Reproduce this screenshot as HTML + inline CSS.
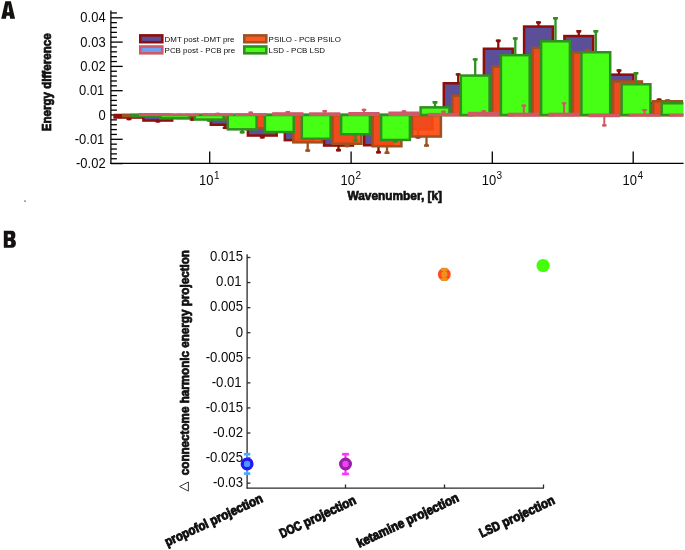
<!DOCTYPE html>
<html><head><meta charset="utf-8"><title>figure</title>
<style>
html,body{margin:0;padding:0;background:#fff;}
body{width:685px;height:550px;overflow:hidden;font-family:"Liberation Sans",sans-serif;}
svg{display:block;}
text{font-family:"Liberation Sans",sans-serif;fill:#0a0a0a;}
.b{font-weight:bold;fill:#111;stroke:#111;stroke-width:0.75px;}
</style></head><body>
<svg width="685" height="550" viewBox="0 0 685 550">
<rect width="685" height="550" fill="#ffffff"/>
<g opacity="0.999">
<defs><clipPath id="clipA"><rect x="110" y="0" width="573.4" height="170"/></clipPath></defs>

<g id="panelA">
<g stroke="#000" stroke-width="1.3" fill="none">
<line x1="110.9" y1="10.4" x2="110.9" y2="163.9"/>
<line x1="110.4" y1="163.4" x2="683.6" y2="163.4"/>
<line x1="110.9" y1="163.60" x2="122.7" y2="163.60"/>
<line x1="110.9" y1="158.74" x2="116.9" y2="158.74"/>
<line x1="110.9" y1="153.88" x2="116.9" y2="153.88"/>
<line x1="110.9" y1="149.02" x2="116.9" y2="149.02"/>
<line x1="110.9" y1="144.16" x2="116.9" y2="144.16"/>
<line x1="110.9" y1="139.30" x2="122.7" y2="139.30"/>
<line x1="110.9" y1="134.44" x2="116.9" y2="134.44"/>
<line x1="110.9" y1="129.58" x2="116.9" y2="129.58"/>
<line x1="110.9" y1="124.72" x2="116.9" y2="124.72"/>
<line x1="110.9" y1="119.86" x2="116.9" y2="119.86"/>
<line x1="110.9" y1="115.00" x2="122.7" y2="115.00"/>
<line x1="110.9" y1="110.14" x2="116.9" y2="110.14"/>
<line x1="110.9" y1="105.28" x2="116.9" y2="105.28"/>
<line x1="110.9" y1="100.42" x2="116.9" y2="100.42"/>
<line x1="110.9" y1="95.56" x2="116.9" y2="95.56"/>
<line x1="110.9" y1="90.70" x2="122.7" y2="90.70"/>
<line x1="110.9" y1="85.84" x2="116.9" y2="85.84"/>
<line x1="110.9" y1="80.98" x2="116.9" y2="80.98"/>
<line x1="110.9" y1="76.12" x2="116.9" y2="76.12"/>
<line x1="110.9" y1="71.26" x2="116.9" y2="71.26"/>
<line x1="110.9" y1="66.40" x2="122.7" y2="66.40"/>
<line x1="110.9" y1="61.54" x2="116.9" y2="61.54"/>
<line x1="110.9" y1="56.68" x2="116.9" y2="56.68"/>
<line x1="110.9" y1="51.82" x2="116.9" y2="51.82"/>
<line x1="110.9" y1="46.96" x2="116.9" y2="46.96"/>
<line x1="110.9" y1="42.10" x2="122.7" y2="42.10"/>
<line x1="110.9" y1="37.24" x2="116.9" y2="37.24"/>
<line x1="110.9" y1="32.38" x2="116.9" y2="32.38"/>
<line x1="110.9" y1="27.52" x2="116.9" y2="27.52"/>
<line x1="110.9" y1="22.66" x2="116.9" y2="22.66"/>
<line x1="110.9" y1="17.80" x2="122.7" y2="17.80"/>
<line x1="110.9" y1="12.94" x2="116.9" y2="12.94"/>
<line x1="209.7" y1="163.4" x2="209.7" y2="151.4"/>
<line x1="351.1" y1="163.4" x2="351.1" y2="151.4"/>
<line x1="492.3" y1="163.4" x2="492.3" y2="151.4"/>
<line x1="633.2" y1="163.4" x2="633.2" y2="151.4"/>
</g>
<g clip-path="url(#clipA)">
<rect x="114.60" y="115.00" width="28.80" height="2.55" fill="#5b4f99" stroke="#8e0f08" stroke-width="2.5"/>
<line x1="129.00" y1="117.55" x2="129.00" y2="120.20" stroke="#8e0f08" stroke-width="2.3"/><polygon points="126.80,120.20 131.20,120.20 131.50,119.90 131.50,118.13 130.15,117.33 127.85,117.33 126.50,118.13 126.50,119.90" fill="#8e0f08"/>
<rect x="143.40" y="115.00" width="28.80" height="5.55" fill="#5b4f99" stroke="#8e0f08" stroke-width="2.5"/>
<line x1="157.80" y1="120.55" x2="157.80" y2="122.60" stroke="#8e0f08" stroke-width="2.3"/><polygon points="155.60,122.60 160.00,122.60 160.30,122.30 160.30,120.53 158.95,119.72 156.65,119.72 155.30,120.53 155.30,122.30" fill="#8e0f08"/>
<rect x="177.80" y="115.00" width="28.80" height="2.95" fill="#5b4f99" stroke="#8e0f08" stroke-width="2.5"/>
<line x1="192.20" y1="117.95" x2="192.20" y2="120.70" stroke="#8e0f08" stroke-width="2.3"/><polygon points="190.00,120.70 194.40,120.70 194.70,120.40 194.70,118.63 193.35,117.83 191.05,117.83 189.70,118.63 189.70,120.40" fill="#8e0f08"/>
<rect x="210.80" y="115.00" width="28.80" height="9.75" fill="#5b4f99" stroke="#8e0f08" stroke-width="2.5"/>
<line x1="225.20" y1="124.75" x2="225.20" y2="129.10" stroke="#8e0f08" stroke-width="2.3"/><polygon points="223.00,129.10 227.40,129.10 227.70,128.80 227.70,127.03 226.35,126.22 224.05,126.22 222.70,127.03 222.70,128.80" fill="#8e0f08"/>
<rect x="247.90" y="115.00" width="28.80" height="20.55" fill="#5b4f99" stroke="#8e0f08" stroke-width="2.5"/>
<line x1="262.30" y1="135.55" x2="262.30" y2="138.60" stroke="#8e0f08" stroke-width="2.3"/><polygon points="260.10,138.60 264.50,138.60 264.80,138.30 264.80,136.53 263.45,135.72 261.15,135.72 259.80,136.53 259.80,138.30" fill="#8e0f08"/>
<rect x="284.80" y="115.00" width="28.80" height="25.15" fill="#5b4f99" stroke="#8e0f08" stroke-width="2.5"/>
<rect x="324.10" y="115.00" width="28.80" height="30.55" fill="#5b4f99" stroke="#8e0f08" stroke-width="2.5"/>
<line x1="338.50" y1="145.55" x2="338.50" y2="151.40" stroke="#8e0f08" stroke-width="2.3"/><polygon points="336.30,151.40 340.70,151.40 341.00,151.10 341.00,149.33 339.65,148.53 337.35,148.53 336.00,149.33 336.00,151.10" fill="#8e0f08"/>
<rect x="364.10" y="115.00" width="28.80" height="30.25" fill="#5b4f99" stroke="#8e0f08" stroke-width="2.5"/>
<line x1="378.50" y1="145.25" x2="378.50" y2="153.50" stroke="#8e0f08" stroke-width="2.3"/><polygon points="376.30,153.50 380.70,153.50 381.00,153.20 381.00,151.43 379.65,150.62 377.35,150.62 376.00,151.43 376.00,153.20" fill="#8e0f08"/>
<rect x="403.60" y="115.00" width="28.80" height="14.25" fill="#5b4f99" stroke="#8e0f08" stroke-width="2.5"/>
<line x1="418.00" y1="129.25" x2="418.00" y2="138.50" stroke="#8e0f08" stroke-width="2.3"/><polygon points="415.80,138.50 420.20,138.50 420.50,138.20 420.50,136.43 419.15,135.62 416.85,135.62 415.50,136.43 415.50,138.20" fill="#8e0f08"/>
<rect x="443.80" y="83.25" width="28.80" height="31.75" fill="#5b4f99" stroke="#8e0f08" stroke-width="2.5"/>
<line x1="458.20" y1="83.25" x2="458.20" y2="73.20" stroke="#8e0f08" stroke-width="2.3"/><polygon points="456.00,73.20 460.40,73.20 460.70,73.50 460.70,75.27 459.35,76.08 457.05,76.08 455.70,75.27 455.70,73.50" fill="#8e0f08"/>
<rect x="483.90" y="48.75" width="28.80" height="66.25" fill="#5b4f99" stroke="#8e0f08" stroke-width="2.5"/>
<line x1="498.30" y1="48.75" x2="498.30" y2="39.50" stroke="#8e0f08" stroke-width="2.3"/><polygon points="496.10,39.50 500.50,39.50 500.80,39.80 500.80,41.57 499.45,42.38 497.15,42.38 495.80,41.57 495.80,39.80" fill="#8e0f08"/>
<rect x="524.10" y="26.55" width="28.80" height="88.45" fill="#5b4f99" stroke="#8e0f08" stroke-width="2.5"/>
<line x1="538.50" y1="26.55" x2="538.50" y2="21.20" stroke="#8e0f08" stroke-width="2.3"/><polygon points="536.30,21.20 540.70,21.20 541.00,21.50 541.00,23.27 539.65,24.07 537.35,24.07 536.00,23.27 536.00,21.50" fill="#8e0f08"/>
<rect x="564.40" y="36.05" width="28.80" height="78.95" fill="#5b4f99" stroke="#8e0f08" stroke-width="2.5"/>
<line x1="578.80" y1="36.05" x2="578.80" y2="30.10" stroke="#8e0f08" stroke-width="2.3"/><polygon points="576.60,30.10 581.00,30.10 581.30,30.40 581.30,32.17 579.95,32.98 577.65,32.98 576.30,32.17 576.30,30.40" fill="#8e0f08"/>
<rect x="604.60" y="74.65" width="28.80" height="40.35" fill="#5b4f99" stroke="#8e0f08" stroke-width="2.5"/>
<line x1="619.00" y1="74.65" x2="619.00" y2="69.30" stroke="#8e0f08" stroke-width="2.3"/><polygon points="616.80,69.30 621.20,69.30 621.50,69.60 621.50,71.37 620.15,72.17 617.85,72.17 616.50,71.37 616.50,69.60" fill="#8e0f08"/>
<rect x="644.70" y="102.75" width="28.80" height="12.25" fill="#5b4f99" stroke="#8e0f08" stroke-width="2.5"/>
<line x1="659.10" y1="102.75" x2="659.10" y2="98.40" stroke="#8e0f08" stroke-width="2.3"/><polygon points="656.90,98.40 661.30,98.40 661.60,98.70 661.60,100.47 660.25,101.28 657.95,101.28 656.60,100.47 656.60,98.70" fill="#8e0f08"/>
<rect x="123.10" y="115.00" width="28.80" height="1.15" fill="#fc4b12" fill-opacity="0.93" stroke="#9e5220" stroke-width="2.5"/>
<rect x="151.90" y="115.00" width="28.80" height="1.15" fill="#fc4b12" fill-opacity="0.93" stroke="#9e5220" stroke-width="2.5"/>
<rect x="186.30" y="115.00" width="28.80" height="1.15" fill="#fc4b12" fill-opacity="0.93" stroke="#9e5220" stroke-width="2.5"/>
<rect x="219.30" y="115.00" width="28.80" height="4.15" fill="#fc4b12" fill-opacity="0.93" stroke="#9e5220" stroke-width="2.5"/>
<rect x="256.40" y="115.00" width="28.80" height="13.25" fill="#fc4b12" fill-opacity="0.93" stroke="#9e5220" stroke-width="2.5"/>
<rect x="293.30" y="115.00" width="28.80" height="27.35" fill="#fc4b12" fill-opacity="0.93" stroke="#9e5220" stroke-width="2.5"/>
<line x1="307.70" y1="142.35" x2="307.70" y2="151.80" stroke="#9e5220" stroke-width="2.3"/><polygon points="305.50,151.80 309.90,151.80 310.20,151.50 310.20,149.73 308.85,148.93 306.55,148.93 305.20,149.73 305.20,151.50" fill="#9e5220"/>
<rect x="332.60" y="115.00" width="28.80" height="28.75" fill="#fc4b12" fill-opacity="0.93" stroke="#9e5220" stroke-width="2.5"/>
<line x1="347.00" y1="143.75" x2="347.00" y2="147.30" stroke="#9e5220" stroke-width="2.3"/><polygon points="344.80,147.30 349.20,147.30 349.50,147.00 349.50,145.23 348.15,144.43 345.85,144.43 344.50,145.23 344.50,147.00" fill="#9e5220"/>
<rect x="372.60" y="115.00" width="28.80" height="31.25" fill="#fc4b12" fill-opacity="0.93" stroke="#9e5220" stroke-width="2.5"/>
<line x1="387.00" y1="146.25" x2="387.00" y2="154.00" stroke="#9e5220" stroke-width="2.3"/><polygon points="384.80,154.00 389.20,154.00 389.50,153.70 389.50,151.93 388.15,151.12 385.85,151.12 384.50,151.93 384.50,153.70" fill="#9e5220"/>
<rect x="412.10" y="115.00" width="28.80" height="21.55" fill="#fc4b12" fill-opacity="0.93" stroke="#9e5220" stroke-width="2.5"/>
<line x1="426.50" y1="136.55" x2="426.50" y2="146.70" stroke="#9e5220" stroke-width="2.3"/><polygon points="424.30,146.70 428.70,146.70 429.00,146.40 429.00,144.63 427.65,143.82 425.35,143.82 424.00,144.63 424.00,146.40" fill="#9e5220"/>
<rect x="452.30" y="95.65" width="28.80" height="19.35" fill="#fc4b12" fill-opacity="0.93" stroke="#9e5220" stroke-width="2.5"/>
<rect x="492.40" y="66.65" width="28.80" height="48.35" fill="#fc4b12" fill-opacity="0.93" stroke="#9e5220" stroke-width="2.5"/>
<rect x="532.60" y="47.85" width="28.80" height="67.15" fill="#fc4b12" fill-opacity="0.93" stroke="#9e5220" stroke-width="2.5"/>
<rect x="572.90" y="52.55" width="28.80" height="62.45" fill="#fc4b12" fill-opacity="0.93" stroke="#9e5220" stroke-width="2.5"/>
<line x1="587.30" y1="52.55" x2="587.30" y2="48.80" stroke="#9e5220" stroke-width="2.3"/><polygon points="585.10,48.80 589.50,48.80 589.80,49.10 589.80,50.87 588.45,51.67 586.15,51.67 584.80,50.87 584.80,49.10" fill="#9e5220"/>
<rect x="613.10" y="81.45" width="28.80" height="33.55" fill="#fc4b12" fill-opacity="0.93" stroke="#9e5220" stroke-width="2.5"/>
<rect x="653.20" y="101.25" width="28.80" height="13.75" fill="#fc4b12" fill-opacity="0.93" stroke="#9e5220" stroke-width="2.5"/>
<line x1="667.60" y1="101.25" x2="667.60" y2="99.20" stroke="#9e5220" stroke-width="2.3"/><polygon points="665.40,99.20 669.80,99.20 670.10,99.50 670.10,101.27 668.75,102.08 666.45,102.08 665.10,101.27 665.10,99.50" fill="#9e5220"/>
<rect x="131.60" y="115.00" width="28.80" height="1.15" fill="#46ff14" stroke="#2f9020" stroke-width="2.5"/>
<rect x="160.40" y="115.00" width="28.80" height="3.35" fill="#46ff14" stroke="#2f9020" stroke-width="2.5"/>
<rect x="194.80" y="115.00" width="28.80" height="4.55" fill="#46ff14" stroke="#2f9020" stroke-width="2.5"/>
<line x1="209.20" y1="119.55" x2="209.20" y2="121.80" stroke="#2f9020" stroke-width="2.3"/><polygon points="207.00,121.80 211.40,121.80 211.70,121.50 211.70,119.73 210.35,118.92 208.05,118.92 206.70,119.73 206.70,121.50" fill="#2f9020"/>
<rect x="227.80" y="115.00" width="28.80" height="14.35" fill="#46ff14" stroke="#2f9020" stroke-width="2.5"/>
<line x1="242.20" y1="129.35" x2="242.20" y2="133.50" stroke="#2f9020" stroke-width="2.3"/><polygon points="240.00,133.50 244.40,133.50 244.70,133.20 244.70,131.43 243.35,130.62 241.05,130.62 239.70,131.43 239.70,133.20" fill="#2f9020"/>
<rect x="264.90" y="115.00" width="28.80" height="17.05" fill="#46ff14" stroke="#2f9020" stroke-width="2.5"/>
<rect x="301.80" y="115.00" width="28.80" height="23.75" fill="#46ff14" stroke="#2f9020" stroke-width="2.5"/>
<rect x="341.10" y="115.00" width="28.80" height="19.25" fill="#46ff14" stroke="#2f9020" stroke-width="2.5"/>
<line x1="355.50" y1="134.25" x2="355.50" y2="141.80" stroke="#2f9020" stroke-width="2.3"/><polygon points="353.30,141.80 357.70,141.80 358.00,141.50 358.00,139.73 356.65,138.93 354.35,138.93 353.00,139.73 353.00,141.50" fill="#2f9020"/>
<rect x="381.10" y="115.00" width="28.80" height="24.95" fill="#46ff14" stroke="#2f9020" stroke-width="2.5"/>
<line x1="395.50" y1="139.95" x2="395.50" y2="142.60" stroke="#2f9020" stroke-width="2.3"/><polygon points="393.30,142.60 397.70,142.60 398.00,142.30 398.00,140.53 396.65,139.72 394.35,139.72 393.00,140.53 393.00,142.30" fill="#2f9020"/>
<rect x="420.60" y="107.35" width="28.80" height="7.65" fill="#46ff14" stroke="#2f9020" stroke-width="2.5"/>
<line x1="435.00" y1="107.35" x2="435.00" y2="101.10" stroke="#2f9020" stroke-width="2.3"/><polygon points="432.80,101.10 437.20,101.10 437.50,101.40 437.50,103.17 436.15,103.97 433.85,103.97 432.50,103.17 432.50,101.40" fill="#2f9020"/>
<rect x="460.80" y="75.55" width="28.80" height="39.45" fill="#46ff14" stroke="#2f9020" stroke-width="2.5"/>
<line x1="475.20" y1="75.55" x2="475.20" y2="58.20" stroke="#2f9020" stroke-width="2.3"/><polygon points="473.00,58.20 477.40,58.20 477.70,58.50 477.70,60.27 476.35,61.08 474.05,61.08 472.70,60.27 472.70,58.50" fill="#2f9020"/>
<rect x="500.90" y="55.15" width="28.80" height="59.85" fill="#46ff14" stroke="#2f9020" stroke-width="2.5"/>
<line x1="515.30" y1="55.15" x2="515.30" y2="37.30" stroke="#2f9020" stroke-width="2.3"/><polygon points="513.10,37.30 517.50,37.30 517.80,37.60 517.80,39.37 516.45,40.17 514.15,40.17 512.80,39.37 512.80,37.60" fill="#2f9020"/>
<rect x="541.10" y="41.25" width="28.80" height="73.75" fill="#46ff14" stroke="#2f9020" stroke-width="2.5"/>
<line x1="555.50" y1="41.25" x2="555.50" y2="17.00" stroke="#2f9020" stroke-width="2.3"/><polygon points="553.30,17.00 557.70,17.00 558.00,17.30 558.00,19.07 556.65,19.88 554.35,19.88 553.00,19.07 553.00,17.30" fill="#2f9020"/>
<rect x="581.40" y="52.25" width="28.80" height="62.75" fill="#46ff14" stroke="#2f9020" stroke-width="2.5"/>
<line x1="595.80" y1="52.25" x2="595.80" y2="30.10" stroke="#2f9020" stroke-width="2.3"/><polygon points="593.60,30.10 598.00,30.10 598.30,30.40 598.30,32.17 596.95,32.98 594.65,32.98 593.30,32.17 593.30,30.40" fill="#2f9020"/>
<rect x="621.60" y="84.25" width="28.80" height="30.75" fill="#46ff14" stroke="#2f9020" stroke-width="2.5"/>
<line x1="636.00" y1="84.25" x2="636.00" y2="72.00" stroke="#2f9020" stroke-width="2.3"/><polygon points="633.80,72.00 638.20,72.00 638.50,72.30 638.50,74.07 637.15,74.88 634.85,74.88 633.50,74.07 633.50,72.30" fill="#2f9020"/>
<rect x="661.70" y="103.25" width="28.80" height="11.75" fill="#46ff14" stroke="#2f9020" stroke-width="2.5"/>
<rect x="138.85" y="113.00" width="31.30" height="3.00" fill="#cd5a66"/>
<rect x="167.65" y="113.60" width="31.30" height="2.50" fill="#cd5a66"/>
<rect x="202.05" y="113.30" width="31.30" height="2.70" fill="#cd5a66"/>
<line x1="217.70" y1="113.80" x2="217.70" y2="112.70" stroke="#cd5a66" stroke-width="2.0"/><polygon points="215.70,112.70 219.70,112.70 220.00,113.00 220.00,114.50 218.70,115.20 216.70,115.20 215.40,114.50 215.40,113.00" fill="#cd5a66"/>
<rect x="235.05" y="113.20" width="31.30" height="2.80" fill="#cd5a66"/>
<line x1="250.70" y1="113.70" x2="250.70" y2="111.60" stroke="#cd5a66" stroke-width="2.0"/><polygon points="248.70,111.60 252.70,111.60 253.00,111.90 253.00,113.40 251.70,114.10 249.70,114.10 248.40,113.40 248.40,111.90" fill="#cd5a66"/>
<rect x="272.15" y="112.20" width="31.30" height="3.80" fill="#cd5a66"/>
<line x1="287.80" y1="112.70" x2="287.80" y2="110.90" stroke="#cd5a66" stroke-width="2.0"/><polygon points="285.80,110.90 289.80,110.90 290.10,111.20 290.10,112.70 288.80,113.40 286.80,113.40 285.50,112.70 285.50,111.20" fill="#cd5a66"/>
<rect x="309.05" y="112.30" width="31.30" height="3.70" fill="#cd5a66"/>
<line x1="324.70" y1="112.80" x2="324.70" y2="110.00" stroke="#cd5a66" stroke-width="2.0"/><polygon points="322.70,110.00 326.70,110.00 327.00,110.30 327.00,111.80 325.70,112.50 323.70,112.50 322.40,111.80 322.40,110.30" fill="#cd5a66"/>
<rect x="348.35" y="112.00" width="31.30" height="4.00" fill="#cd5a66"/>
<line x1="364.00" y1="112.50" x2="364.00" y2="108.80" stroke="#cd5a66" stroke-width="2.0"/><polygon points="362.00,108.80 366.00,108.80 366.30,109.10 366.30,110.60 365.00,111.30 363.00,111.30 361.70,110.60 361.70,109.10" fill="#cd5a66"/>
<rect x="388.35" y="111.50" width="31.30" height="4.50" fill="#cd5a66"/>
<line x1="404.00" y1="112.00" x2="404.00" y2="110.20" stroke="#cd5a66" stroke-width="2.0"/><polygon points="402.00,110.20 406.00,110.20 406.30,110.50 406.30,112.00 405.00,112.70 403.00,112.70 401.70,112.00 401.70,110.50" fill="#cd5a66"/>
<rect x="427.85" y="112.90" width="31.30" height="3.30" fill="#cd5a66"/>
<line x1="443.50" y1="113.40" x2="443.50" y2="110.70" stroke="#cd5a66" stroke-width="2.0"/><polygon points="441.50,110.70 445.50,110.70 445.80,111.00 445.80,112.50 444.50,113.20 442.50,113.20 441.20,112.50 441.20,111.00" fill="#cd5a66"/>
<rect x="468.05" y="111.80" width="31.30" height="4.60" fill="#cd5a66"/>
<line x1="483.70" y1="112.30" x2="483.70" y2="110.30" stroke="#cd5a66" stroke-width="2.0"/><polygon points="481.70,110.30 485.70,110.30 486.00,110.60 486.00,112.10 484.70,112.80 482.70,112.80 481.40,112.10 481.40,110.60" fill="#cd5a66"/>
<rect x="508.15" y="112.70" width="31.30" height="3.90" fill="#cd5a66"/>
<line x1="523.80" y1="113.20" x2="523.80" y2="104.60" stroke="#cd5a66" stroke-width="2.0"/><polygon points="521.80,104.60 525.80,104.60 526.10,104.90 526.10,106.40 524.80,107.10 522.80,107.10 521.50,106.40 521.50,104.90" fill="#cd5a66"/>
<rect x="548.35" y="112.70" width="31.30" height="3.90" fill="#cd5a66"/>
<line x1="564.00" y1="113.20" x2="564.00" y2="102.20" stroke="#cd5a66" stroke-width="2.0"/><polygon points="562.00,102.20 566.00,102.20 566.30,102.50 566.30,104.00 565.00,104.70 563.00,104.70 561.70,104.00 561.70,102.50" fill="#cd5a66"/>
<rect x="588.65" y="113.70" width="31.30" height="3.50" fill="#cd5a66"/>
<line x1="604.30" y1="116.70" x2="604.30" y2="126.40" stroke="#cd5a66" stroke-width="2.0"/><polygon points="602.30,126.40 606.30,126.40 606.60,126.10 606.60,124.60 605.30,123.90 603.30,123.90 602.00,124.60 602.00,126.10" fill="#cd5a66"/>
<rect x="628.85" y="113.70" width="31.30" height="3.00" fill="#cd5a66"/>
<line x1="644.50" y1="114.20" x2="644.50" y2="108.90" stroke="#cd5a66" stroke-width="2.0"/><polygon points="642.50,108.90 646.50,108.90 646.80,109.20 646.80,110.70 645.50,111.40 643.50,111.40 642.20,110.70 642.20,109.20" fill="#cd5a66"/>
<rect x="668.95" y="113.70" width="31.30" height="3.00" fill="#cd5a66"/>
</g>
<text transform="translate(105.6,168.20) scale(0.94,1)" font-size="13.8" text-anchor="end">-0.02</text>
<text transform="translate(104.3,143.90) scale(0.94,1)" font-size="13.8" text-anchor="end">-0.01</text>
<text transform="translate(105.6,119.60) scale(0.94,1)" font-size="13.8" text-anchor="end">0</text>
<text transform="translate(104.3,95.30) scale(0.94,1)" font-size="13.8" text-anchor="end">0.01</text>
<text transform="translate(105.6,71.00) scale(0.94,1)" font-size="13.8" text-anchor="end">0.02</text>
<text transform="translate(105.6,46.70) scale(0.94,1)" font-size="13.8" text-anchor="end">0.03</text>
<text transform="translate(105.6,22.40) scale(0.94,1)" font-size="13.8" text-anchor="end">0.04</text>
<text transform="translate(199.10,185) scale(0.94,1)" font-size="13.8">10</text>
<text x="214.00" y="178.8" font-size="10">1</text>
<text transform="translate(340.50,185) scale(0.94,1)" font-size="13.8">10</text>
<text x="355.40" y="178.8" font-size="10">2</text>
<text transform="translate(481.70,185) scale(0.94,1)" font-size="13.8">10</text>
<text x="496.60" y="178.8" font-size="10">3</text>
<text transform="translate(622.60,185) scale(0.94,1)" font-size="13.8">10</text>
<text x="637.50" y="178.8" font-size="10">4</text>
<text class="b" font-size="12.4" transform="translate(50.9,131.3) rotate(-90) scale(0.935,1)" id="ylabA">Energy difference</text>
<text class="b" font-size="13.4" transform="translate(347.4,200.2) scale(0.887,1)" id="xlabA">Wavenumber, [k]</text>
<rect x="140.3" y="35.4" width="22.0" height="6.800000000000001" fill="#5b4f99" stroke="#8e0f08" stroke-width="2.6"/>
<rect x="140.3" y="46.5" width="22.0" height="6.800000000000001" fill="#6fa0f0" stroke="#cd5a66" stroke-width="2.6"/>
<rect x="244.3" y="35.4" width="22.0" height="6.800000000000001" fill="#fc4b12" fill-opacity="0.93" stroke="#9e5220" stroke-width="2.6"/>
<rect x="244.3" y="46.5" width="22.0" height="6.800000000000001" fill="#46ff14" stroke="#2f9020" stroke-width="2.6"/>
<text x="164.6" y="41.7" font-size="7.95" id="lg1">DMT post -DMT pre</text>
<text x="164.6" y="52.9" font-size="7.95" id="lg2">PCB post - PCB pre</text>
<text x="268.6" y="41.7" font-size="7.95" id="lg3">PSILO - PCB PSILO</text>
<text x="268.6" y="52.9" font-size="7.95" id="lg4">LSD - PCB LSD</text>
<path id="letA" fill="#151111" fill-rule="evenodd" d="M1.2,18.8 L5.3,1.2 H10.9 L15.1,18.8 H10.2 L9.6,15.8 H6.5 L5.9,18.8 Z M8.15,4.6 L6.9,12.3 H9.45 Z"/>
<circle cx="25" cy="201.1" r="0.9" fill="#777"/>
</g>
<g id="panelB">
<g stroke="#2a2a2a" stroke-width="1.3" fill="none">
<line x1="247.1" y1="254.3" x2="247.1" y2="488.55"/>
<line x1="246.65" y1="488.1" x2="544" y2="488.1"/>
<line x1="247.1" y1="257.50" x2="250.4" y2="257.50"/>
<line x1="247.1" y1="282.57" x2="250.4" y2="282.57"/>
<line x1="247.1" y1="307.64" x2="250.4" y2="307.64"/>
<line x1="247.1" y1="332.71" x2="250.4" y2="332.71"/>
<line x1="247.1" y1="357.78" x2="250.4" y2="357.78"/>
<line x1="247.1" y1="382.85" x2="250.4" y2="382.85"/>
<line x1="247.1" y1="407.92" x2="250.4" y2="407.92"/>
<line x1="247.1" y1="432.99" x2="250.4" y2="432.99"/>
<line x1="247.1" y1="458.06" x2="250.4" y2="458.06"/>
<line x1="247.1" y1="483.13" x2="250.4" y2="483.13"/>
<line x1="345.5" y1="488.1" x2="345.5" y2="484.5"/>
<line x1="444.5" y1="488.1" x2="444.5" y2="484.5"/>
<line x1="543.5" y1="488.1" x2="543.5" y2="484.5"/>
</g>
<text transform="translate(243.0,261.30) scale(0.955,1)" font-size="13.8" text-anchor="end">0.015</text>
<text transform="translate(241.7,286.37) scale(0.955,1)" font-size="13.8" text-anchor="end">0.01</text>
<text transform="translate(243.0,311.44) scale(0.955,1)" font-size="13.8" text-anchor="end">0.005</text>
<text transform="translate(243.0,336.51) scale(0.955,1)" font-size="13.8" text-anchor="end">0</text>
<text transform="translate(243.0,361.58) scale(0.955,1)" font-size="13.8" text-anchor="end">-0.005</text>
<text transform="translate(241.7,386.65) scale(0.955,1)" font-size="13.8" text-anchor="end">-0.01</text>
<text transform="translate(243.0,411.72) scale(0.955,1)" font-size="13.8" text-anchor="end">-0.015</text>
<text transform="translate(243.0,436.79) scale(0.955,1)" font-size="13.8" text-anchor="end">-0.02</text>
<text transform="translate(243.0,461.86) scale(0.955,1)" font-size="13.8" text-anchor="end">-0.025</text>
<text transform="translate(243.0,486.93) scale(0.955,1)" font-size="13.8" text-anchor="end">-0.03</text>
<line x1="247.1" y1="452.9" x2="247.1" y2="474.9" stroke="#4da6ff" stroke-width="2.2"/><rect x="243.9" y="452.9" width="6.4" height="2.6" fill="#4da6ff"/><rect x="243.9" y="472.29999999999995" width="6.4" height="2.6" fill="#4da6ff"/><circle cx="247.1" cy="463.9" r="4.85" fill="#4f96ff" stroke="#2419f5" stroke-width="3.3"/>
<line x1="345.5" y1="452.9" x2="345.5" y2="475.2" stroke="#ff33ff" stroke-width="2.2"/><rect x="342.1" y="452.9" width="6.8" height="2.6" fill="#ff33ff"/><rect x="342.1" y="472.59999999999997" width="6.8" height="2.6" fill="#ff33ff"/><circle cx="345.5" cy="464.0" r="4.85" fill="#ee44ee" stroke="#9a1fa8" stroke-width="3.3"/>
<circle cx="444.3" cy="274.4" r="6.4" fill="#ff4a1a"/>
<rect x="441.1" y="267.8" width="6.4" height="3.1" fill="#f09020"/><rect x="441.1" y="277.9" width="6.4" height="3.1" fill="#f09020"/><rect x="443.2" y="268" width="2.2" height="12.8" fill="#f09020"/>
<circle cx="444.3" cy="274.4" r="3.15" fill="#f09020"/>
<circle cx="543.1" cy="265.5" r="6.6" fill="#44ff0a"/>
<g id="xl0" transform="translate(263.8,501.5) rotate(-25)" class="b" font-size="13" text-anchor="end" style="stroke-width:0.95px"><text transform="scale(0.905,1)">projection</text><text transform="translate(-60.07,0) scale(0.881,1)">propofol</text></g>
<g id="xl1" transform="translate(357.1,503.2) rotate(-25)" class="b" font-size="13" text-anchor="end" style="stroke-width:0.95px"><text transform="scale(0.905,1)">projection</text><text transform="translate(-60.07,0) scale(0.79,1)">DOC</text></g>
<g id="xl2" transform="translate(459.8,500.8) rotate(-25)" class="b" font-size="13" text-anchor="end" style="stroke-width:0.95px"><text transform="scale(0.905,1)">projection</text><text transform="translate(-60.07,0) scale(0.905,1)">ketamine</text></g>
<g id="xl3" transform="translate(555.7,503.3) rotate(-25)" class="b" font-size="13" text-anchor="end" style="stroke-width:0.95px"><text transform="scale(0.905,1)">projection</text><text transform="translate(-60.07,0) scale(0.83,1)">LSD</text></g>
<text class="b" font-size="12.3" transform="translate(188.6,475.2) rotate(-90) scale(0.948,1)" id="ylabB">connectome harmonic energy projection</text>
<polygon points="188.4,482.0 188.4,491.1 179.6,486.55" fill="none" stroke="#222" stroke-width="0.9"/>
<path id="letB" fill="#151111" fill-rule="evenodd" d="M3.8,230.8 H11.8 C14.2,230.8 15.4,232.4 15.4,235.2 C15.4,237.2 14.8,238.5 13.6,239.2 C15.2,239.9 15.9,241.3 15.9,243.3 C15.9,246.2 14.4,247.8 11.8,247.8 H3.8 Z M7.7,234.3 H9.6 C10.7,234.3 11.1,234.9 11.1,235.95 C11.1,237 10.7,237.6 9.6,237.6 H7.7 Z M7.7,240.9 H9.8 C10.9,240.9 11.3,241.6 11.3,242.9 C11.3,244.2 10.9,244.9 9.8,244.9 H7.7 Z"/>
</g>
</g></svg></body></html>
